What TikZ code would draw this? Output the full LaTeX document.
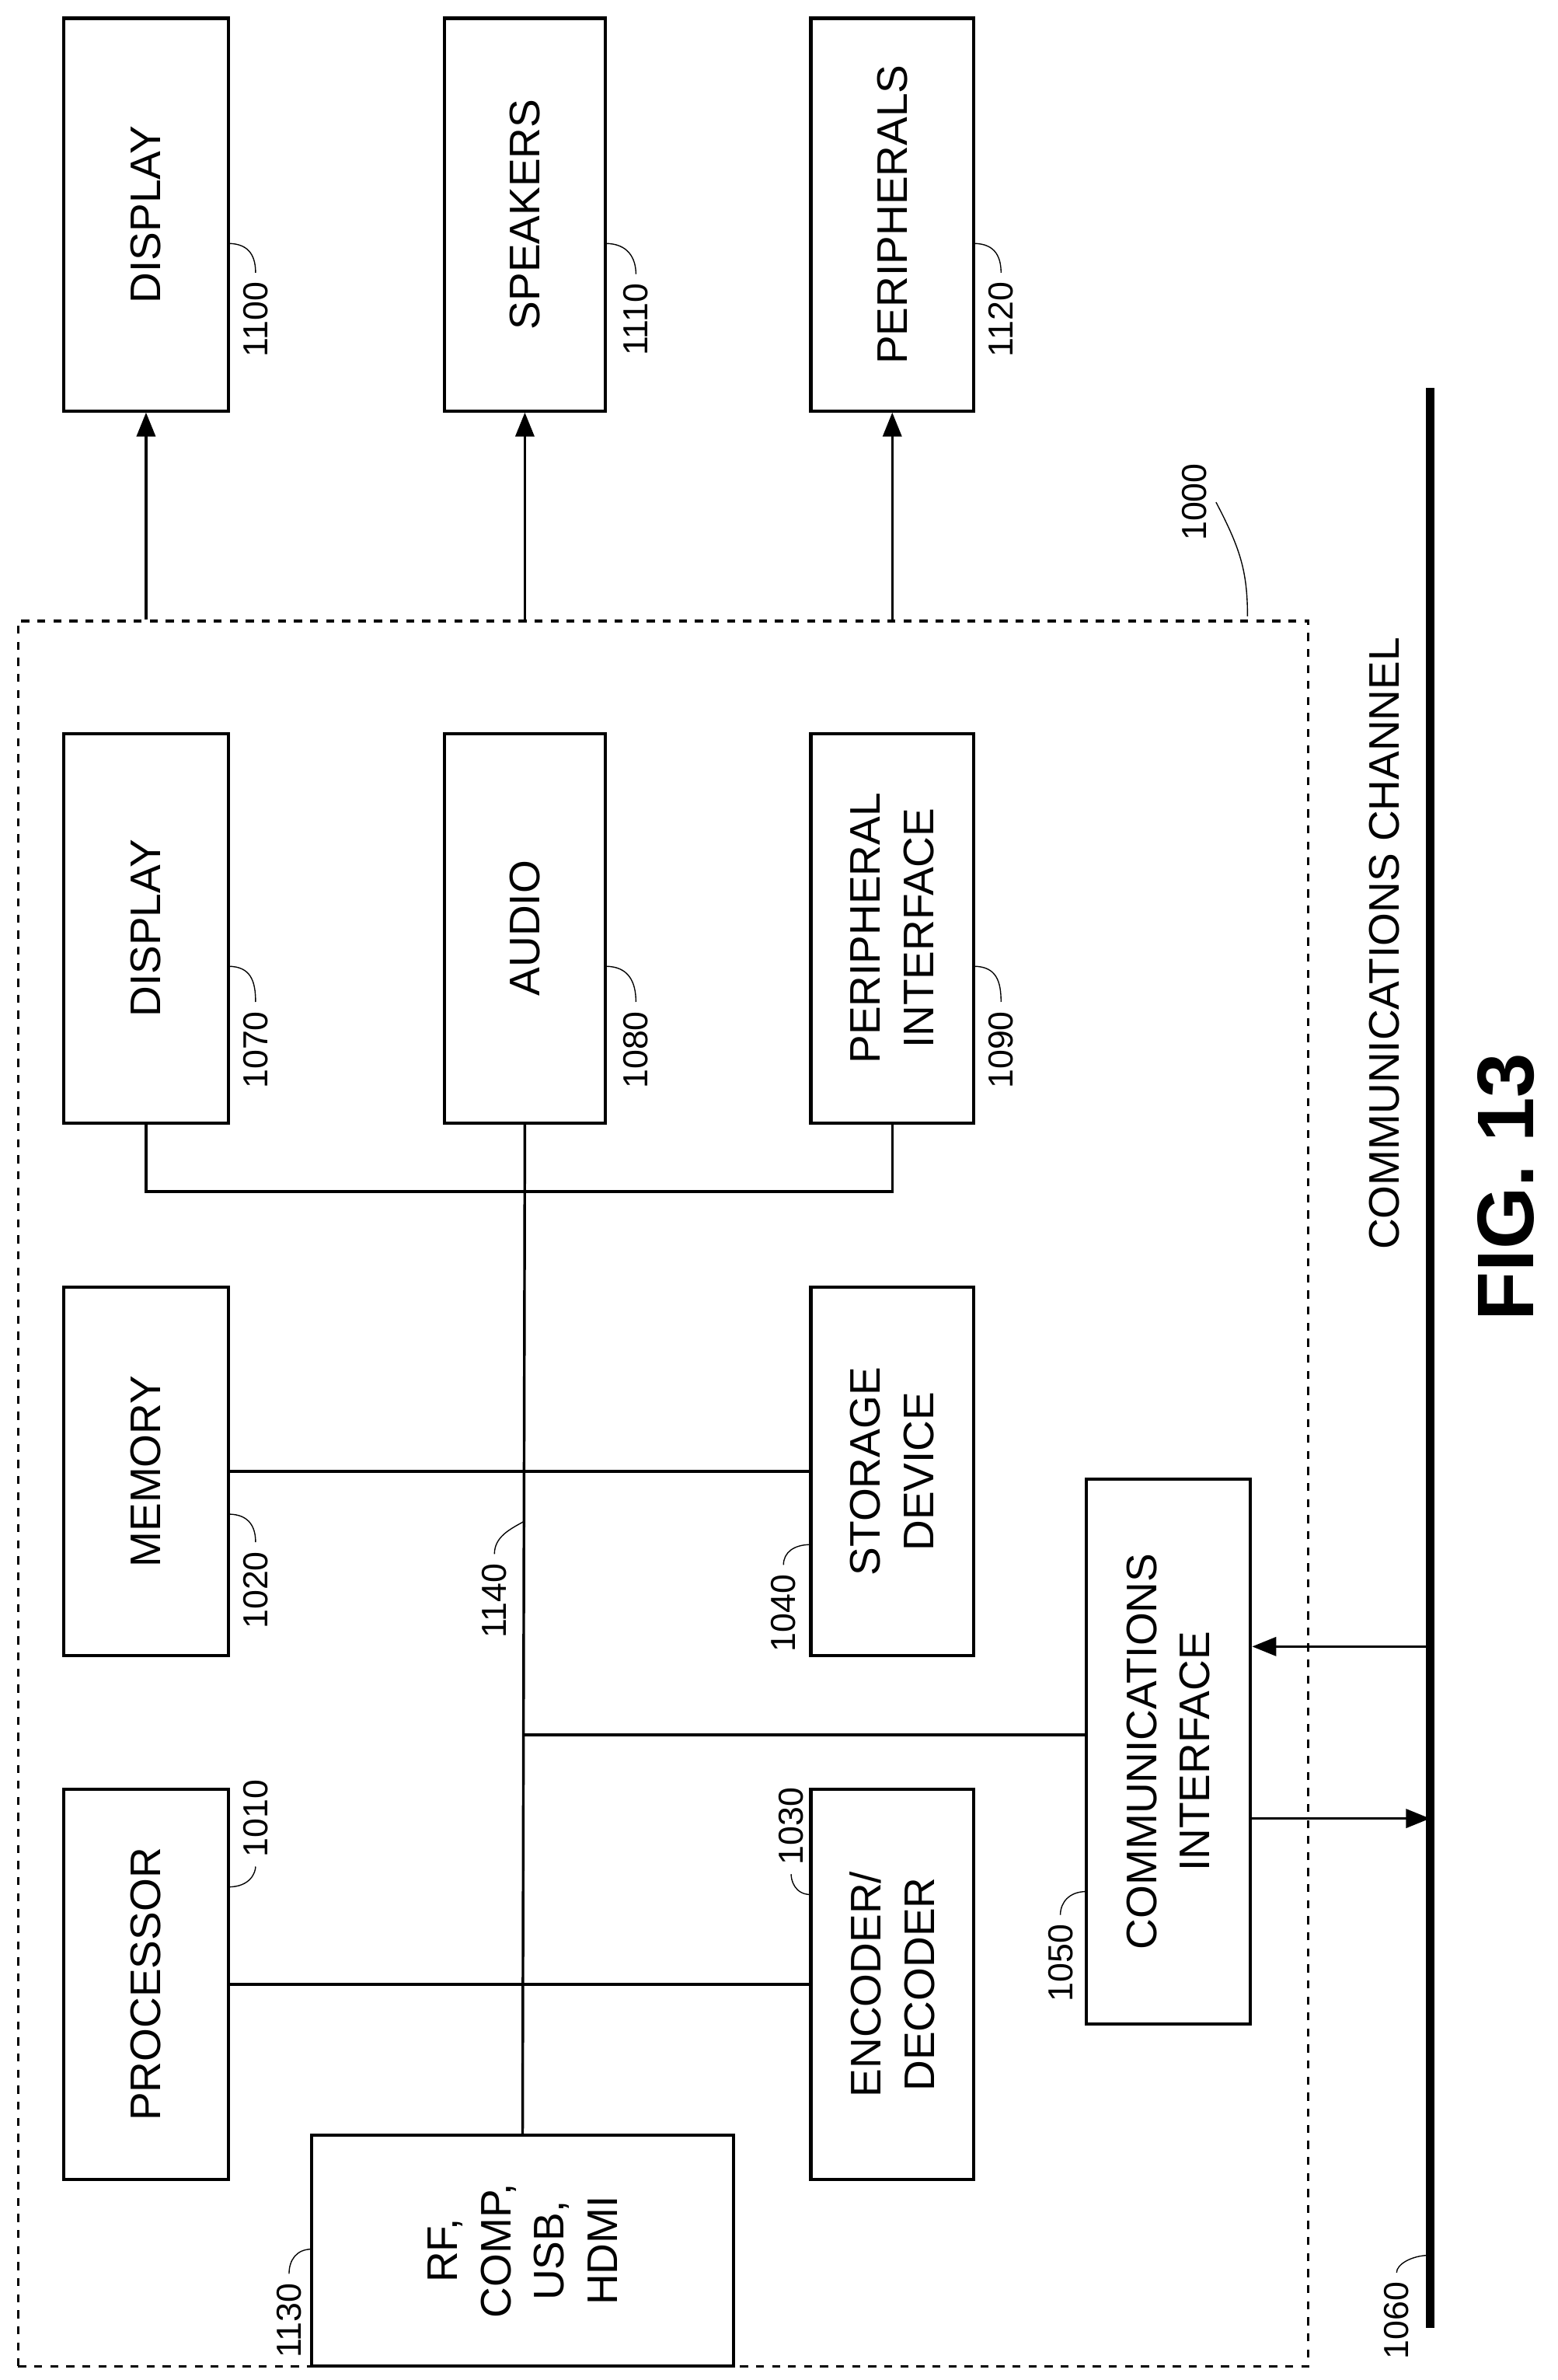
\documentclass[tikz,border=0pt]{standalone}
\usepackage{fontspec}
\setmainfont{Liberation Sans}
\usetikzlibrary{fit,arrows.meta}
\tikzset{
  blk/.style={draw,line width=1.2pt,inner sep=0pt},
  txt/.style={rotate=90,align=center,font=\fontsize{16}{20}\selectfont},
  lbl/.style={rotate=90,font=\fontsize{13}{15}\selectfont},
  arr/.style={line width=1pt,-{Triangle[length=9pt,width=7pt]}},
}
\newcommand{\blkbox}[6]{%
  \coordinate (#1a) at (#2,#3); \coordinate (#1b) at (#4,#5);
  \node[blk,fit=(#1a)(#1b)] (#1) {};
  \node[txt] (#1t) at (#1) {#6};}
\begin{document}
\begin{tikzpicture}[x=0.02cm,y=-0.02cm]
\useasboundingbox (0,0) rectangle (1024,1564);
% outer system
\node[draw,dashed,line width=1pt,inner sep=0pt,fit={(12,408)(860,1555)}] (sys) {};
% output devices
\blkbox{dspo}{42}{12}{150}{270}{DISPLAY}
\blkbox{spk}{292}{12}{398}{270}{SPEAKERS}
\blkbox{per}{533}{12}{640}{270}{PERIPHERALS}
% inner blocks
\blkbox{dsp}{42}{482}{150}{738}{DISPLAY}
\blkbox{aud}{292}{482}{398}{738}{AUDIO}
\blkbox{pif}{533}{482}{640}{738}{PERIPHERAL\\INTERFACE}
\blkbox{mem}{42}{846}{150}{1088}{MEMORY}
\blkbox{sto}{533}{846}{640}{1088}{STORAGE\\DEVICE}
\blkbox{proc}{42}{1176}{150}{1432}{PROCESSOR}
\blkbox{enc}{533}{1176}{640}{1432}{ENCODER/\\DECODER}
\blkbox{rf}{205}{1403}{482}{1555}{RF,\\COMP,\\USB,\\HDMI}
\blkbox{com}{714}{972}{822}{1330}{COMMUNICATIONS\\INTERFACE}
% bus
\draw[line width=1pt] (rf.north) -- (aud.south);
\coordinate (busj) at (rf.north |- 0,1140);
\draw[line width=1pt] (proc.east) -- (enc.west);
\draw[line width=1pt] (mem.east) -- (sto.west);
\draw[line width=1pt] (busj) -- (com.west |- busj);
\draw[line width=1pt] (dsp.south) -- ++(0,44) -| (pif.south);
% outputs
\draw[arr] (dspo.south |- sys.north) -- (dspo.south);
\draw[arr] (spk.south |- sys.north) -- (spk.south);
\draw[arr] (per.south |- sys.north) -- (per.south);
% channel
\coordinate (chtop) at (940,255);
\coordinate (chbot) at (940,1530);
\draw[line width=3pt] (chtop) -- (chbot);
\coordinate (chin) at (940,1082);
\coordinate (chout) at (940,1195);
\draw[arr] (chin) -- (com.east |- chin);
\draw[arr] (com.east |- chout) -- (chout);
\node[rotate=90,font=\fontsize{16}{20}\selectfont] (chl) at (910,620) {COMMUNICATIONS CHANNEL};
\node[rotate=90,font=\fontsize{30}{36}\selectfont\bfseries] (fig) at (990,780) {FIG. 13};
% reference numerals
\node[lbl] (n1100) at (168,210) {1100};
\draw (150,160) .. controls (165,160) and (168,170) .. (n1100.east);
\node[lbl] (n1110) at (418,210) {1110};
\draw (398,160) .. controls (413,160) and (418,170) .. (n1110.east);
\node[lbl] (n1120) at (658,210) {1120};
\draw (640,160) .. controls (655,160) and (658,170) .. (n1120.east);
\node[lbl] (n1000) at (785,330) {1000};
\draw (n1000.south) .. controls (815,360) and (820,375) .. (820,405);
\node[lbl] (n1070) at (168,690) {1070};
\draw (150,635) .. controls (165,635) and (168,645) .. (n1070.east);
\node[lbl] (n1080) at (418,690) {1080};
\draw (398,635) .. controls (413,635) and (418,645) .. (n1080.east);
\node[lbl] (n1090) at (658,690) {1090};
\draw (640,635) .. controls (655,635) and (658,645) .. (n1090.east);
\node[lbl] (n1020) at (168,1045) {1020};
\draw (150,995) .. controls (165,995) and (168,1005) .. (n1020.east);
\node[lbl] (n1140) at (325,1052) {1140};
\draw (n1140.east) .. controls (325,1010) and (335,1005) .. (344,1000);
\node[lbl] (n1040) at (515,1060) {1040};
\draw (n1040.east) .. controls (515,1020) and (522,1015) .. (533,1015);
\node[lbl] (n1010) at (168,1195) {1010};
\draw (150,1240) .. controls (165,1240) and (168,1230) .. (n1010.west);
\node[lbl] (n1030) at (520,1200) {1030};
\draw (533,1245) .. controls (522,1245) and (520,1235) .. (n1030.west);
\node[lbl] (n1050) at (697,1290) {1050};
\draw (n1050.east) .. controls (697,1250) and (703,1243) .. (714,1243);
\node[lbl] (n1130) at (190,1525) {1130};
\draw (n1130.east) .. controls (190,1485) and (195,1478) .. (205,1478);
\node[lbl] (n1060) at (918,1525) {1060};
\draw (n1060.east) .. controls (918,1488) and (928,1482) .. (940,1482);
\end{tikzpicture}
\end{document}
